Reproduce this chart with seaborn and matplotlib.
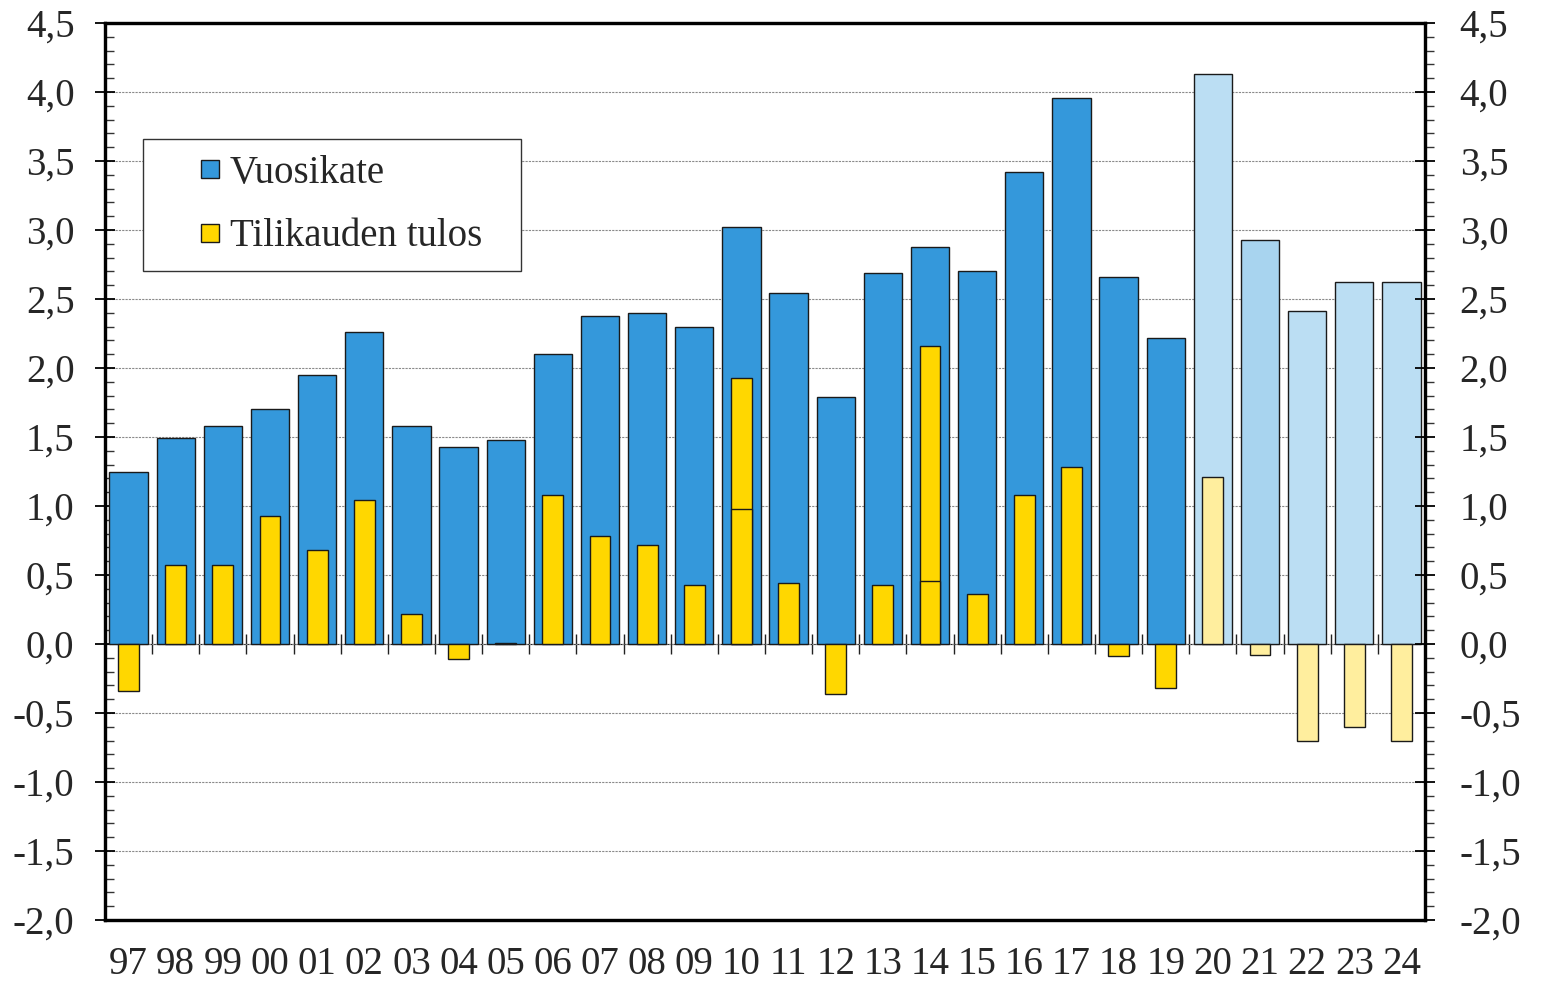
import numpy as np
import pandas as pd
import matplotlib
matplotlib.use("Agg")
import matplotlib.pyplot as plt
from matplotlib.ticker import MultipleLocator, FuncFormatter
from matplotlib.lines import Line2D
import seaborn as sns

years = ["97", "98", "99", "00", "01", "02", "03", "04", "05", "06", "07", "08", "09", "10",
         "11", "12", "13", "14", "15", "16", "17", "18", "19", "20", "21", "22", "23", "24"]
vuosikate = [1.25, 1.49, 1.58, 1.70, 1.95, 2.26, 1.58, 1.43, 1.48, 2.10, 2.38, 2.40, 2.30, 3.02,
             2.54, 1.79, 2.69, 2.88, 2.70, 3.42, 3.96, 2.66, 2.22, 4.13, 2.93, 2.41, 2.62, 2.62]
tulos = [-0.34, 0.57, 0.57, 0.93, 0.68, 1.04, 0.22, -0.11, 0.01, 1.08, 0.78, 0.72, 0.43, 1.93,
         0.44, -0.36, 0.43, 2.16, 0.36, 1.08, 1.28, -0.09, -0.32, 1.21, -0.08, -0.70, -0.60, -0.70]
# inner division line inside the yellow bars (years 10 and 14)
tulos_inner_years = ["10", "14"]
tulos_inner = [0.98, 0.46]
forecast_years = ["20", "21", "22", "23", "24"]

label_vk = "Vuosikate"
label_tt = "Tilikauden tulos"

BLUE = "#3498DB"
LBLUE = "#BBDEF3"
LBLUE21 = "#A8D4EF"
YEL = "#FFD700"
LYEL = "#FFEE9E"

blue_pal = [(LBLUE21 if y == "21" else LBLUE) if y in forecast_years else BLUE for y in years]
yel_pal = [LYEL if y in forecast_years else YEL for y in years]

df = pd.DataFrame({"year": years, "vk": vuosikate, "tt": tulos})
df_inner = pd.DataFrame({"year": tulos_inner_years, "tt": tulos_inner})

sns.set_theme(style="white")
plt.rcParams["font.family"] = ["Liberation Serif", "DejaVu Serif"]
FS = 28

fig = plt.figure(figsize=(15.42, 9.81), dpi=100)
ax = fig.add_axes([105 / 1542, 1 - 920 / 981, 1320 / 1542, 897 / 981])

EDGE = "#1a1a1a"
sns.barplot(data=df, x="year", y="vk", hue="year", palette=blue_pal, order=years,
            hue_order=years, width=0.81, dodge=False, legend=False, saturation=1,
            edgecolor=EDGE, linewidth=1.0, errorbar=None, ax=ax, zorder=2)
sns.barplot(data=df, x="year", y="tt", hue="year", palette=yel_pal, order=years,
            hue_order=years, width=0.44, dodge=False, legend=False, saturation=1,
            edgecolor=EDGE, linewidth=1.0, errorbar=None, ax=ax, zorder=3)
sns.barplot(data=df_inner, x="year", y="tt", color=YEL, order=years,
            width=0.44, saturation=1, edgecolor=EDGE, linewidth=1.0,
            errorbar=None, ax=ax, zorder=4)

ymin, ymax = -2.0, 4.5
ax.set_ylim(ymin, ymax)
ax.set_xlim(-0.5, len(years) - 0.5)
ax.set_xlabel("")
ax.set_ylabel("")

fmt = FuncFormatter(lambda v, p: f"{v:.1f}".replace(".", ","))

ax.yaxis.set_major_locator(MultipleLocator(0.5))
ax.yaxis.set_minor_locator(MultipleLocator(0.1))
ax.yaxis.set_major_formatter(fmt)

ax.grid(axis="y", which="major", color="#8a8a8a", linestyle=(0, (2, 1)), linewidth=0.8, zorder=0)
ax.set_axisbelow(True)
ax.tick_params(axis="y", which="major", direction="inout", length=14, width=1.3,
               color="black", labelsize=FS, pad=15, left=True)
ax.tick_params(axis="y", which="minor", direction="in", length=6.5, width=1.0,
               color="#333333", left=True)
ax.tick_params(axis="x", which="both", length=0, labelsize=FS, pad=19, bottom=True)

for s in ax.spines.values():
    s.set_visible(True)
    s.set_linewidth(2.3)
    s.set_color("black")

ax2 = ax.twinx()
ax2.set_ylim(ymin, ymax)
ax2.yaxis.set_major_locator(MultipleLocator(0.5))
ax2.yaxis.set_minor_locator(MultipleLocator(0.1))
ax2.yaxis.set_major_formatter(fmt)
ax2.tick_params(axis="y", which="major", direction="inout", length=14, width=1.3,
                color="black", labelsize=FS, pad=18, right=True)
ax2.tick_params(axis="y", which="minor", direction="out", length=6.5, width=1.0,
                color="#333333", right=True)
ax2.grid(False)
for s in ax2.spines.values():
    s.set_visible(True)
    s.set_linewidth(2.3)
    s.set_color("black")

# zero line with category-boundary ticks
zero_loc = (0 - ymin) / (ymax - ymin)
secax = ax.secondary_xaxis(zero_loc)
secax.set_xticks(np.arange(1, len(years)) - 0.5)
secax.tick_params(axis="x", which="major", direction="inout", length=15, width=1.0,
                  color="#222222", labelbottom=False, labeltop=False, bottom=True)
for s in secax.spines.values():
    s.set_linewidth(0.8)
    s.set_color("#222222")

handles = [
    Line2D([], [], linestyle="none", marker="s", markersize=13, markerfacecolor=BLUE,
           markeredgecolor=EDGE, markeredgewidth=1.0),
    Line2D([], [], linestyle="none", marker="s", markersize=13, markerfacecolor=YEL,
           markeredgecolor=EDGE, markeredgewidth=1.0),
]
top_frac = (920 - 139) / 897
leg = ax.legend(handles, [label_vk, label_tt], loc="upper left",
                bbox_to_anchor=((143 - 105) / 1320, top_frac - 0.2, (521 - 143) / 1320, 0.2),
                mode="expand", borderaxespad=0, borderpad=0.4, labelspacing=0.69,
                handlelength=2.64, handletextpad=-0.81, numpoints=1,
                fontsize=FS, frameon=True, fancybox=False, framealpha=1,
                edgecolor="#333333")
leg.get_frame().set_linewidth(1.0)
leg.set_zorder(10)

fig.savefig("out.png", dpi=100)
